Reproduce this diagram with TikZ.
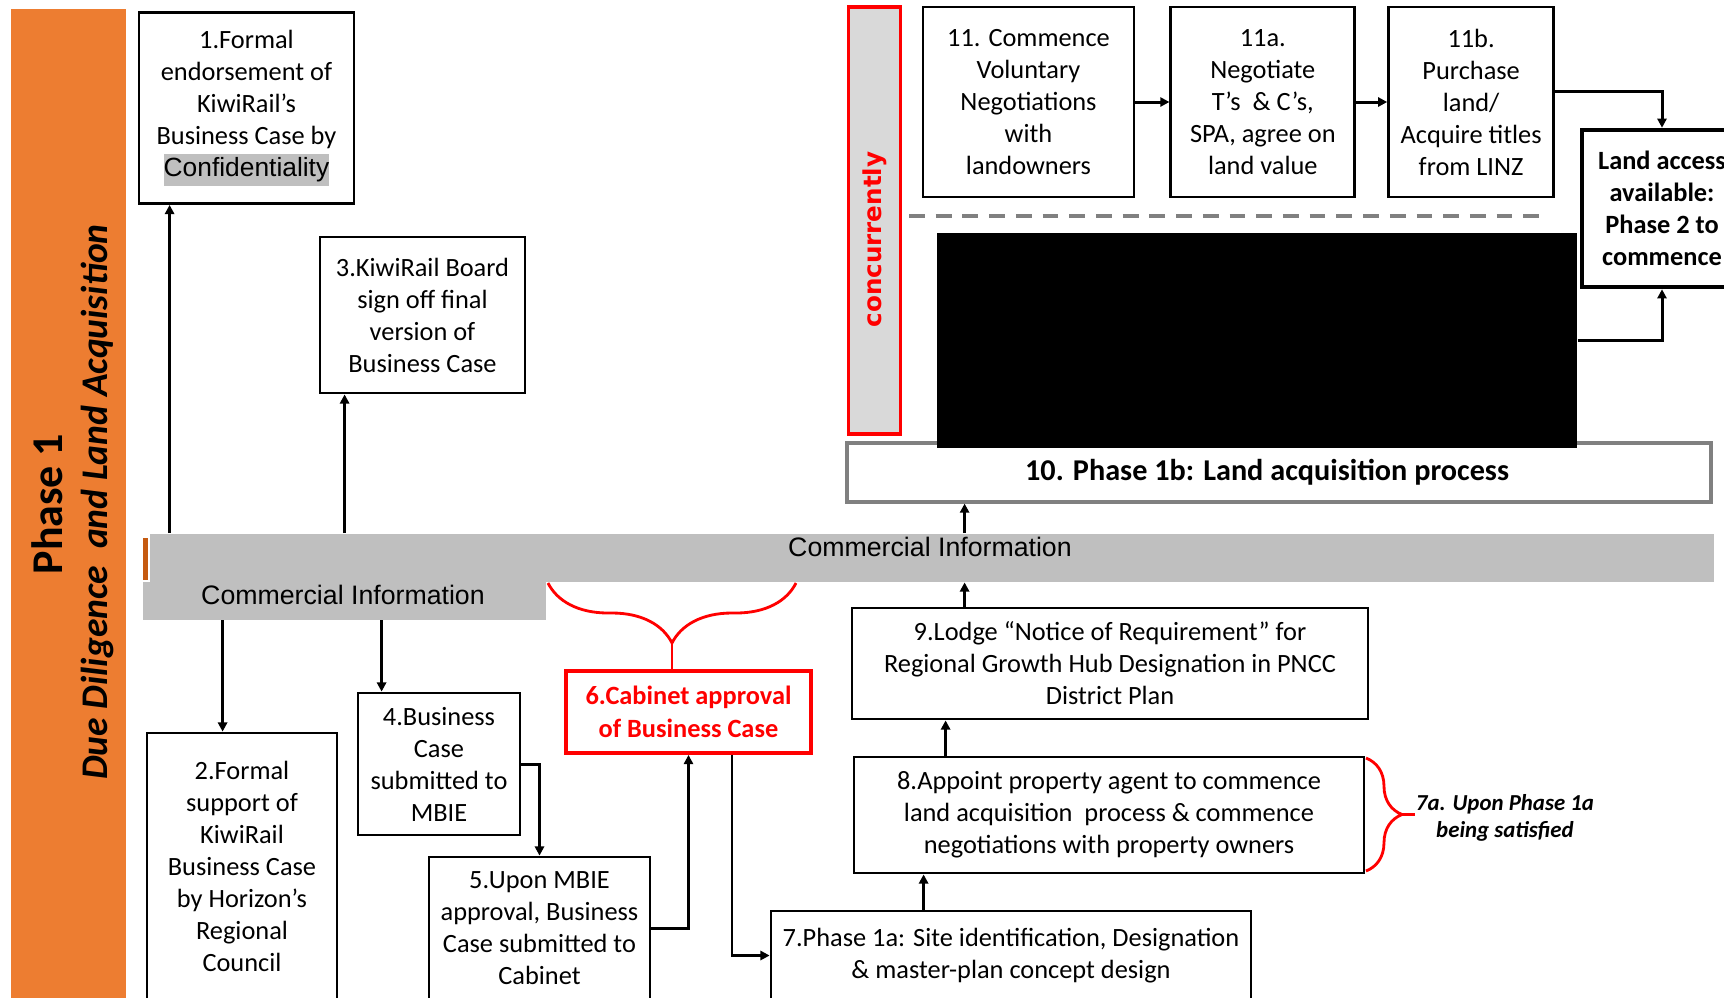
\documentclass[tikz,border=0pt]{standalone}
\usepackage{fontspec}
\setmainfont{Carlito}
\newfontfamily\arialfont{Liberation Sans}
\newfontfamily\verdanafont{DejaVu Sans}
\usetikzlibrary{positioning, arrows.meta, calc, decorations.pathreplacing}
\definecolor{phaseorange}{HTML}{ED7D31}
\definecolor{sliverorange}{HTML}{C55A11}
\definecolor{infogray}{HTML}{BFBFBF}
\definecolor{concgray}{HTML}{D9D9D9}
\definecolor{framegray}{HTML}{808080}
\colorlet{alertred}{red}
\newcommand{\hilite}[1]{{\setlength{\fboxsep}{0pt}\colorbox{infogray}{\arialfont\strut #1}}}

\begin{document}
\begin{tikzpicture}[
        x=0.1mm, y=-0.1mm,
        box/.style={rectangle, draw, line width=0.8pt, fill=white, inner sep=0pt,
                    align=center, font=\fontsize{7.5}{9.1}\selectfont},
        cabinet/.style={box, draw=alertred, line width=1.1pt, text=alertred,
                        font=\fontsize{7.5}{9.4}\selectfont\bfseries},
        phasebox/.style={box, draw=framegray, line width=0.9pt, font=\fontsize{8.6}{10}\selectfont\bfseries},
        accessbox/.style={box, line width=1.3pt, font=\fontsize{7.5}{9.1}\selectfont\bfseries},
        concbox/.style={rectangle, draw=alertred, fill=concgray, line width=1pt, inner sep=0pt,
                        text=alertred, font=\verdanafont\fontsize{7}{8}\selectfont\bfseries},
        bar/.style={rectangle, fill=infogray, inner sep=0pt, anchor=north west},
        info/.style={font=\arialfont\fontsize{7.6}{9}\selectfont, inner sep=0pt},
        arrow/.style={-{Triangle[length=2.6pt, width=2.6pt]}, line width=0.85pt},
        redbrace/.style={decorate, decoration={brace, amplitude=#1}, draw=alertred, line width=0.8pt},
        note/.style={font=\fontsize{6.5}{7.7}\selectfont\bfseries\itshape, align=center, inner sep=0pt},
        sepline/.style={draw=framegray, line width=1.1pt, dash pattern=on 4.5pt off 3.1pt},
    ]
    \path[use as bounding box] (0,0) rectangle (1724,997);
    \clip (0,0) rectangle (1724,997);

    % Phase band on the left
    \fill[phaseorange] (11,9) rectangle (126,1000);
    \node[rotate=90, font=\fontsize{12.5}{14}\selectfont\bfseries] (phase) at (47,504) {Phase 1};
    \node[rotate=90, font=\fontsize{10.7}{12}\selectfont\bfseries\itshape] (phasesub) at (97,502)
        {Due Diligence~ and Land Acquisition};

    % Commercial information bars
    \node[bar, minimum width=156.4mm, minimum height=4.8mm] (comtop) at (149,533) {};
    \node[bar, minimum width=40.3mm, minimum height=3.8mm] (comlow) at (142,581) {};
    \fill[sliverorange] (143,538) rectangle (148,580);
    \node[info] (infotop) at (930,547) {Commercial Information};
    \node[info] (infolow) at (343,595) {Commercial Information};

    % Upper left boxes
    \node[box, minimum width=21.5mm, minimum height=19.1mm] (endorse) at (246.5,108)
        {1.Formal\\endorsement of\\KiwiRail’s\\Business Case by\\\hilite{Confidentiality}};
    \node[box, minimum width=20.5mm, minimum height=15.6mm] (board) at (422.5,315)
        {3.KiwiRail Board\\sign off final\\version of\\Business Case};
    \coordinate (upA) at ([xshift=3.2mm]endorse.south west);
    \coordinate (upB) at ([xshift=2.6mm]board.south west);
    \draw[arrow] (upA |- comtop.north) -- (upA);
    \draw[arrow] (upB |- comtop.north) -- (upB);

    % Lower left chain
    \node[box, minimum width=19mm, minimum height=26.7mm] (support) at (242,866.5)
        {2.Formal\\support of\\KiwiRail\\Business Case\\by Horizon’s\\Regional\\Council};
    \node[box, minimum width=16.2mm, minimum height=14.2mm] (mbie) at (439,764)
        {4.Business\\Case\\submitted to\\MBIE};
    \node[box, minimum width=22.1mm, minimum height=14.3mm] (upon) at (539.5,928.5)
        {5.Upon MBIE\\approval, Business\\Case submitted to\\Cabinet};
    \node[cabinet, minimum width=24.5mm, minimum height=8.2mm] (cabinet) at (688.5,712)
        {6.Cabinet approval\\of Business Case};
    \coordinate (dnA) at ([xshift=7.7mm]support.north west);
    \coordinate (dnB) at ([xshift=2.5mm]mbie.north west);
    \draw[arrow] (dnA |- comlow.south) -- (dnA);
    \draw[arrow] (dnB |- comlow.south) -- (dnB);
    \draw[arrow] (mbie.east) -| (upon.north);
    \draw[arrow] (upon.east) -| (cabinet.south);

    % Brace from the bar to cabinet approval
    \coordinate (braceR) at (796,583);
    \coordinate (braceL) at (548,583);
    \coordinate (bracetip) at (672,643);
    \draw[redbrace=6mm] (braceR) -- (braceL);
    \draw[alertred, line width=0.8pt] (bracetip) -- (bracetip |- cabinet.north);

    % Phase 1a chain
    \node[box, minimum width=48mm, minimum height=8.9mm] (site) at (1011,955.5)
        {7.Phase 1a: Site identification, Designation\\\& master-plan concept design};
    \node[box, minimum width=51mm, minimum height=11.6mm] (agent) at (1109,815)
        {8.Appoint property agent to commence\\land acquisition~ process \& commence\\negotiations with property owners};
    \node[box, minimum width=51.6mm, minimum height=11.1mm] (notice) at (1110,663.5)
        {9.Lodge “Notice of Requirement” for\\Regional Growth Hub Designation in PNCC\\District Plan};
    \draw[arrow] ([xshift=4.35mm]cabinet.south) |- (site.west);
    \coordinate (upC) at ([xshift=7.1mm]agent.south west);
    \coordinate (upD) at ([xshift=9.5mm]notice.south west);
    \coordinate (upE) at ([xshift=11.4mm]notice.north west);
    \draw[arrow] (upC |- site.north) -- (upC);
    \draw[arrow] (upD |- agent.north) -- (upD);
    \draw[arrow] (upE) -- (upE |- comtop.south);

    % Brace for 7a
    \coordinate (braceT) at (1366,758);
    \coordinate (braceB) at (1366,871);
    \coordinate (bracemid) at (1402,814.5);
    \node[note] (upon7a) at (1505,818) {7a. Upon Phase 1a\\being satisfied};
    \draw[redbrace=3.6mm] (braceT) -- (braceB);
    \draw[alertred, line width=0.8pt] (bracemid) -- (bracemid -| upon7a.west);

    % Phase 1b land acquisition
    \node[phasebox, minimum width=86.4mm, minimum height=5.9mm] (landacq) at (1279,472.5)
        {10. Phase 1b: Land acquisition process\hspace{6.8pt}\mbox{}};
    \draw[arrow] (upE |- comtop.north) -- (upE |- landacq.south);

    \node[concbox, rotate=90, minimum width=42.7mm, minimum height=5.2mm] (concur) at (874.5,220.5)
        {concurrently\hspace{10.8pt}\mbox{}};
    \node[box, minimum width=21.1mm, minimum height=19mm] (voluntary) at (1028.5,102)
        {11. Commence\\Voluntary\\Negotiations\\with\\landowners};
    \node[box, minimum width=18.4mm, minimum height=19mm, right=3.4mm of voluntary] (negotiate)
        {11a.\\Negotiate\\T’s~ \& C’s,\\SPA, agree on\\land value};
    \node[box, minimum width=16.5mm, minimum height=19mm, right=3.1mm of negotiate] (purchase)
        {11b.\\Purchase\\land/\\Acquire titles\\from LINZ};
    \draw[arrow] (voluntary) -- (negotiate);
    \draw[arrow] (negotiate) -- (purchase);
    \draw[sepline] (909,216) -- (1548,216);

    % Redacted block
    \node[rectangle, fill=black, inner sep=0pt, minimum width=64mm, minimum height=21.5mm] (redact) at (1257,340.5) {};

    % Land access
    \node[accessbox, minimum width=16mm, minimum height=15.7mm] (access) at (1662,208.5)
        {Land access\\available:\\Phase 2 to\\commence};
    \draw[arrow] ([yshift=1.1mm]purchase.east) -| (access.north);
    \draw[arrow] (redact.east) -| (access.south);
\end{tikzpicture}
\end{document}
